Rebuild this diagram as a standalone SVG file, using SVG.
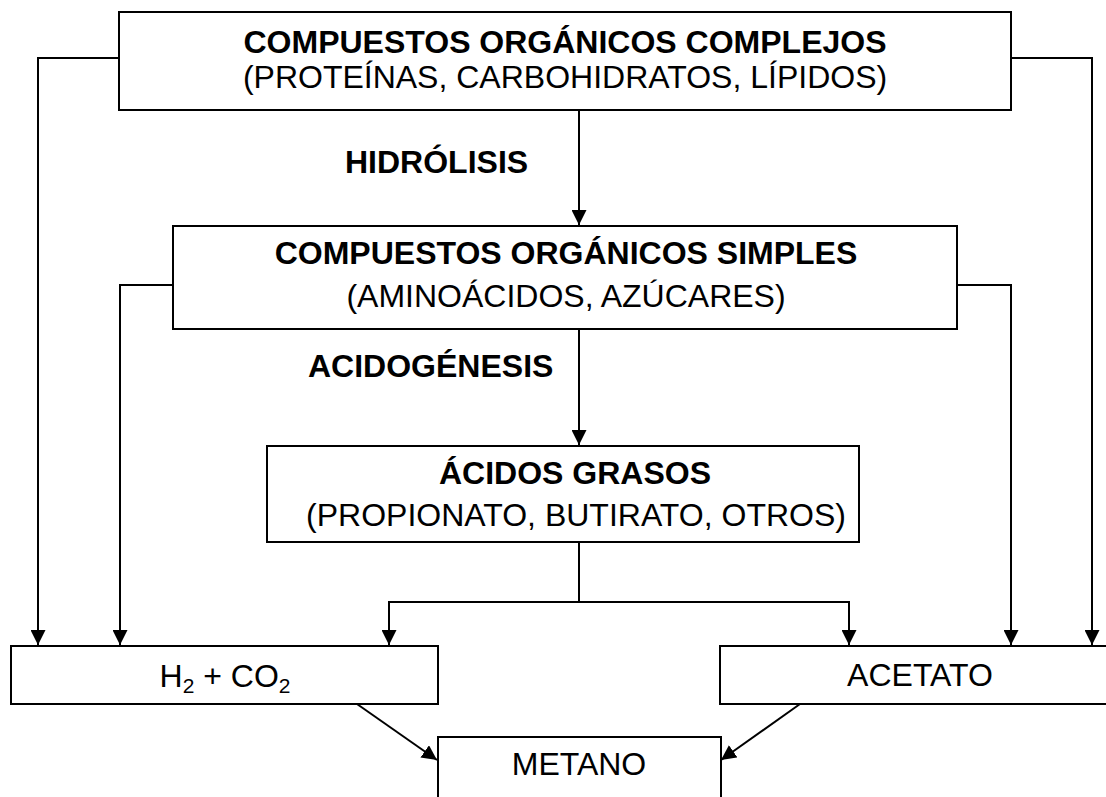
<svg xmlns="http://www.w3.org/2000/svg" width="1106" height="797" viewBox="0 0 1106 797">
<defs>
<style>
.box{fill:#fff;stroke:#000;stroke-width:2}
.t{font-family:"Liberation Sans",Arial,sans-serif;font-size:32px;fill:#000}
.b{font-weight:bold}
.c{stroke:#000;stroke-width:2;fill:none}
</style>
<marker id="ah" markerUnits="userSpaceOnUse" markerWidth="15" markerHeight="15" refX="15" refY="7.5" orient="auto">
<path d="M0,0 L15,7.5 L0,15 z" fill="#000"/>
</marker>
</defs>
<rect width="1106" height="797" fill="#fff"/>
<g id="connectors">
<path class="c" d="M579,110 V225" marker-end="url(#ah)"/>
<path class="c" d="M579,329 V445" marker-end="url(#ah)"/>
<path class="c" d="M119,58 H38 V645" marker-end="url(#ah)"/>
<path class="c" d="M1011,58 H1092 V645" marker-end="url(#ah)"/>
<path class="c" d="M173,285 H120 V645" marker-end="url(#ah)"/>
<path class="c" d="M957,285 H1011 V645" marker-end="url(#ah)"/>
<path class="c" d="M579,542 V602"/>
<path class="c" d="M579,602 H389 V645" marker-end="url(#ah)"/>
<path class="c" d="M579,602 H849 V645" marker-end="url(#ah)"/>
<path class="c" d="M357,704 L437,760" marker-end="url(#ah)"/>
<path class="c" d="M800,704 L721,760" marker-end="url(#ah)"/>
</g>
<g id="complejos">
<rect class="box" x="119" y="12" width="892" height="98"/>
<text class="t b" x="565" y="53" text-anchor="middle">COMPUESTOS ORGÁNICOS COMPLEJOS</text>
<text class="t" x="565" y="88" text-anchor="middle">(PROTEÍNAS, CARBOHIDRATOS, LÍPIDOS)</text>
</g>
<g id="hidrolisis">
<text class="t b" x="345" y="173">HIDRÓLISIS</text>
</g>
<g id="simples">
<rect class="box" x="173" y="226" width="784" height="103"/>
<text class="t b" x="566" y="264" text-anchor="middle">COMPUESTOS ORGÁNICOS SIMPLES</text>
<text class="t" x="566" y="307" text-anchor="middle">(AMINOÁCIDOS, AZÚCARES)</text>
</g>
<g id="acidogenesis">
<text class="t b" x="308" y="377">ACIDOGÉNESIS</text>
</g>
<g id="acidos">
<rect class="box" x="267" y="446" width="592" height="96"/>
<text class="t b" x="575" y="484" text-anchor="middle">ÁCIDOS GRASOS</text>
<text class="t" x="576" y="526" text-anchor="middle">(PROPIONATO, BUTIRATO, OTROS)</text>
</g>
<g id="h2co2">
<rect class="box" x="11" y="646" width="427" height="58"/>
<text class="t" x="225" y="687" text-anchor="middle">H<tspan font-size="21" dy="6">2</tspan><tspan dy="-6"> + CO</tspan><tspan font-size="21" dy="6">2</tspan></text>
</g>
<g id="acetato">
<rect class="box" x="720" y="646" width="400" height="58"/>
<text class="t" x="920" y="686" text-anchor="middle">ACETATO</text>
</g>
<g id="metano">
<rect class="box" x="438" y="737" width="283" height="80"/>
<text class="t" x="579" y="775" text-anchor="middle">METANO</text>
</g>
</svg>
